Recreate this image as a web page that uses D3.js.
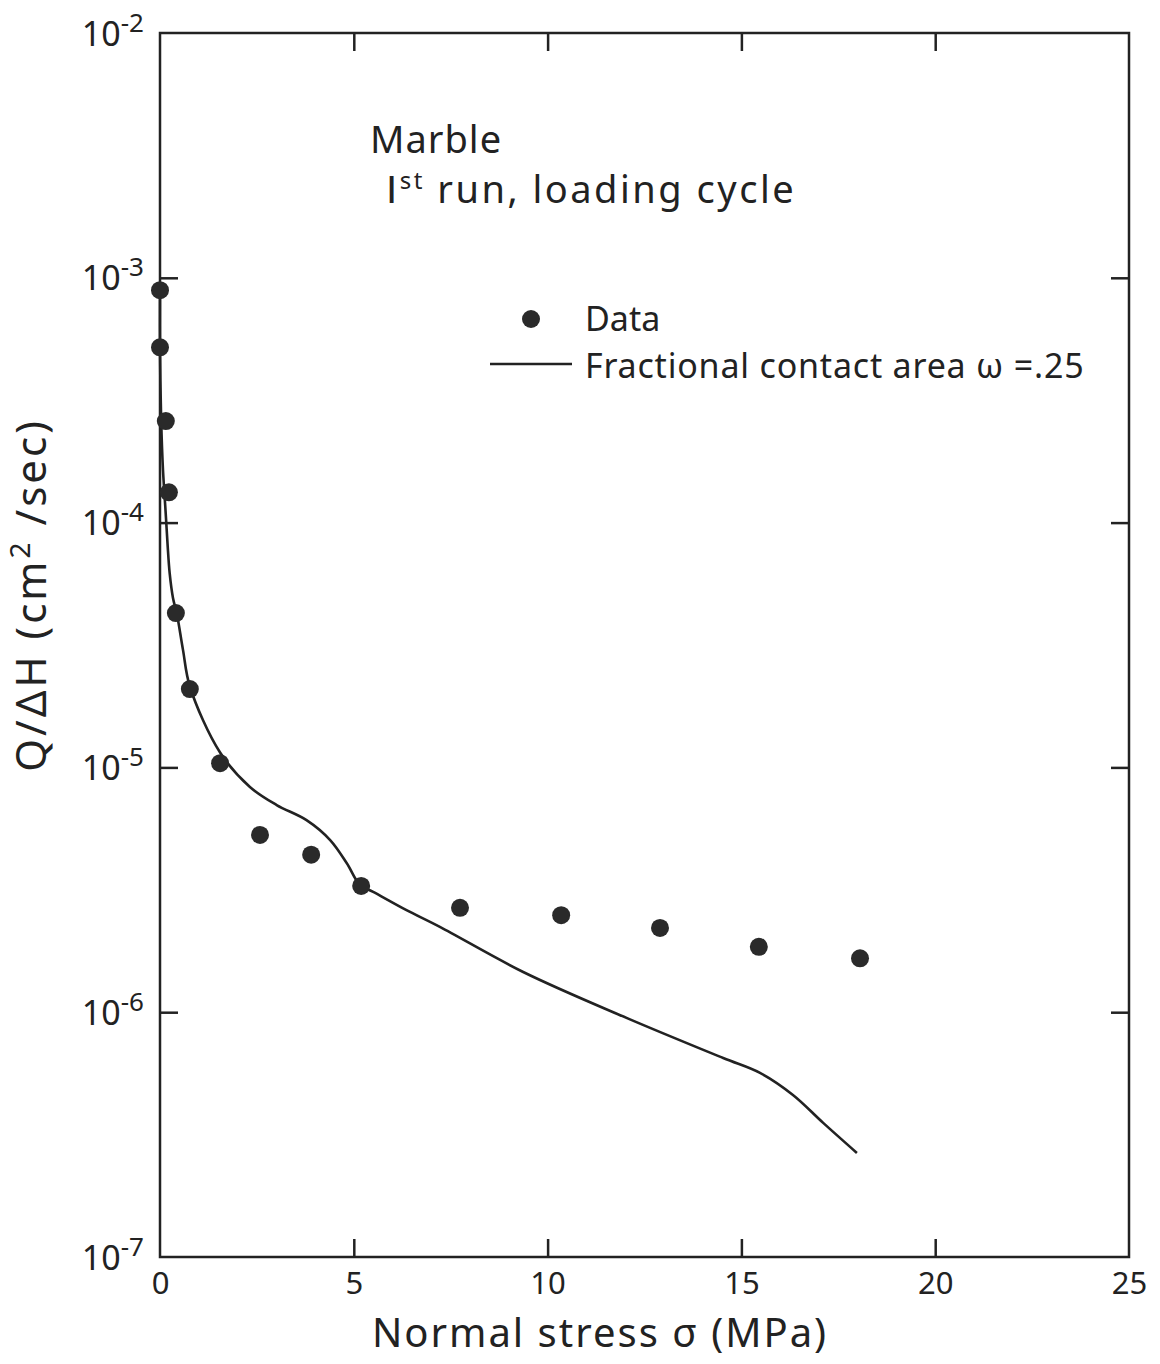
<!DOCTYPE html>
<html>
<head>
<meta charset="utf-8">
<script src="https://cdn.jsdelivr.net/npm/d3@7"></script>
<style>
  body { margin: 0; background: #fff; }
  text { font-family: "Noto Sans", "DejaVu Sans", sans-serif; fill: #222; }
</style>
</head>
<body>
<div id="chart"></div>
<script>
// measured points (normal stress in MPa, Q/dH in cm2/sec)
const stressData = [0.0, 0.0, 0.15, 0.23, 0.41, 0.77, 1.55, 2.58, 3.9, 5.19, 7.74, 10.35, 12.9, 15.45, 18.06];
const flowData = [8.9e-4, 5.2e-4, 2.6e-4, 1.33e-4, 4.27e-5, 2.09e-5, 1.04e-5, 5.3e-6, 4.4e-6, 3.28e-6, 2.67e-6, 2.49e-6, 2.21e-6, 1.85e-6, 1.66e-6];

// fractional contact area model, w = .25
const modelStress = [0.0, 0.0, 0.03, 0.077, 0.142, 0.194, 0.25, 0.335, 0.439, 0.593, 0.774, 1.55, 2.32, 3.01, 3.78, 4.39, 4.82, 5.16, 5.50, 6.36, 7.22, 9.37, 12.05, 14.53, 15.48, 16.33, 17.11, 17.98];
const modelFlow = [9.0e-4, 5.07e-4, 2.62e-4, 1.64e-4, 1.125e-4, 8.2e-5, 6.2e-5, 4.92e-5, 4.20e-5, 3.02e-5, 2.13e-5, 1.15e-5, 8.32e-6, 7.02e-6, 6.09e-6, 5.05e-6, 4.06e-6, 3.31e-6, 3.10e-6, 2.61e-6, 2.23e-6, 1.46e-6, 9.46e-7, 6.50e-7, 5.65e-7, 4.59e-7, 3.53e-7, 2.66e-7];

const xTicks = [0, 5, 10, 15, 20, 25];
const yTicks = [1e-7, 1e-6, 1e-5, 1e-4, 1e-3, 1e-2];
const yExp = [-7, -6, -5, -4, -3, -2];

//Dimensions and margins
var margin = { top: 33, right: 31, bottom: 107, left: 160 },
    width = 1160 - margin.left - margin.right,
    height = 1364 - margin.top - margin.bottom;

var svg = d3.select("#chart")
    .append("svg")
    .attr("width", 1160)
    .attr("height", 1364)
    .append("g")
    .attr("transform", "translate(" + margin.left + "," + margin.top + ")");

var x = d3.scaleLinear().domain([0, 25]).range([0, width]);
var y = d3.scaleLog().domain([1e-7, 1e-2]).range([height, 0]);

//Frame
svg.append("rect")
    .attr("width", width)
    .attr("height", height)
    .attr("fill", "none")
    .attr("stroke", "#222")
    .attr("stroke-width", 2.5);

function styleAxis(g) {
    g.select(".domain").remove();
    g.selectAll(".tick line").attr("stroke", "#222").attr("stroke-width", 2.5);
}

//Bottom axis with ticks pointing in
svg.append("g")
    .attr("transform", "translate(0," + height + ")")
    .call(d3.axisBottom(x).tickValues(xTicks).tickSizeInner(-18).tickSizeOuter(0))
    .call(styleAxis)
    .call(g => g.selectAll(".tick text").style("font-size", "31px").attr("fill", "#222")
        .attr("y", 37).attr("dy", null))
    .call(g => g.selectAll(".tick").filter(d => d === 0 || d === 25).select("line").remove());

//Top ticks
svg.append("g")
    .call(d3.axisTop(x).tickValues([5, 10, 15, 20]).tickSizeInner(-18).tickSizeOuter(0).tickFormat(""))
    .call(styleAxis);

//Left axis
var yAxis = svg.append("g")
    .call(d3.axisLeft(y).tickValues(yTicks).tickSizeInner(-18).tickSizeOuter(0).tickFormat(""))
    .call(styleAxis);
yAxis.selectAll(".tick").filter(d => d === 1e-7 || d === 1e-2).select("line").remove();

yAxis.selectAll(".tick").append("text")
    .attr("x", -16)
    .attr("y", 12)
    .attr("text-anchor", "end")
    .style("font-size", "34px")
    .each(function (d, i) {
        var t = d3.select(this);
        t.append("tspan").text("10");
        t.append("tspan").attr("dy", -14).style("font-size", "26px").text("-" + Math.abs(yExp[i]));
    });

//Right ticks
svg.append("g")
    .attr("transform", "translate(" + width + ",0)")
    .call(d3.axisRight(y).tickValues([1e-6, 1e-5, 1e-4, 1e-3]).tickSizeInner(-18).tickSizeOuter(0).tickFormat(""))
    .call(styleAxis);

//Model curve
var modelPts = modelStress.map((s, i) => [s, modelFlow[i]]);
svg.append("path")
    .datum(modelPts)
    .attr("fill", "none")
    .attr("stroke", "#222")
    .attr("stroke-width", 2.6)
    .attr("d", d3.line()
        .x(d => x(d[0]))
        .y(d => y(d[1]))
        .curve(d3.curveCatmullRom.alpha(0.5)));

//Data points
svg.selectAll("circle.pt")
    .data(stressData.map((s, i) => [s, flowData[i]]))
    .enter()
    .append("circle")
    .attr("class", "pt")
    .attr("cx", d => x(d[0]))
    .attr("cy", d => y(d[1]))
    .attr("r", 9)
    .attr("fill", "#2a2a2a");

//Annotation
var note = svg.append("g").attr("transform", "translate(210,0)");
note.append("text").attr("x", 0).attr("y", 120).style("font-size", "38px")
    .style("letter-spacing", "1px").text("Marble");
var run = note.append("text").attr("x", 16).attr("y", 170).style("font-size", "38px")
    .style("letter-spacing", "2.5px");
run.append("tspan").style("font-family", "DejaVu Sans").text("I");
run.append("tspan").attr("dy", -14).style("font-size", "24px").text("st");
run.append("tspan").attr("dy", 14).text(" run, loading cycle");

//Legend
var leg = svg.append("g");
leg.append("circle").attr("cx", 371).attr("cy", 286).attr("r", 9).attr("fill", "#2a2a2a");
leg.append("text").attr("x", 425).attr("y", 298).style("font-size", "34px").text("Data");
leg.append("line")
    .attr("x1", 330).attr("x2", 412)
    .attr("y1", 331).attr("y2", 331)
    .attr("stroke", "#222").attr("stroke-width", 2.6);
leg.append("text").attr("x", 425).attr("y", 345).style("font-size", "34px")
    .style("letter-spacing", "0.8px")
    .text("Fractional contact area  \u03c9 =.25");

//X-axis label
svg.append("text")
    .attr("x", 440)
    .attr("y", height + 90)
    .attr("text-anchor", "middle")
    .style("font-size", "40px")
    .style("letter-spacing", "2px")
    .text("Normal stress \u03c3 (MPa)");

//Y-axis label
var yl = svg.append("text")
    .attr("transform", "translate(-114," + 562 + ") rotate(-90)")
    .attr("text-anchor", "middle")
    .style("font-size", "42px")
    .style("letter-spacing", "3px");
yl.append("tspan").text("Q/\u0394H (cm");
yl.append("tspan").attr("dy", -16).style("font-size", "28px").text("2");
yl.append("tspan").attr("dy", 16).text(" /sec)");
</script>
</body>
</html>
